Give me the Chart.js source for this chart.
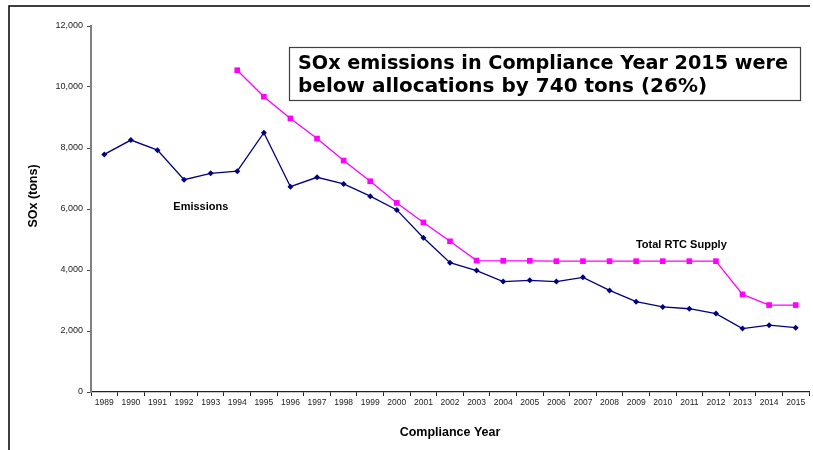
<!DOCTYPE html>
<html>
<head>
<meta charset="utf-8">
<script src="https://cdn.jsdelivr.net/npm/chart.js@4"></script>
<style>
  html, body { margin: 0; padding: 0; background: #fff; }
  #wrap { width: 813px; height: 450px; position: relative; }
</style>
</head>
<body>
<div id="wrap"><canvas id="graf"></canvas></div>
<script>
// ---------- dados ----------
const anos = ["1989", "1990", "1991", "1992", "1993", "1994", "1995", "1996", "1997", "1998",
  "1999", "2000", "2001", "2002", "2003", "2004", "2005", "2006", "2007", "2008",
  "2009", "2010", "2011", "2012", "2013", "2014", "2015"];

const emissoes = [7790, 8260, 7930, 6960, 7170, 7240, 8500, 6730, 7040, 6820,
  6420, 5970, 5060, 4240, 3980, 3620, 3660, 3620, 3760, 3330,
  2960, 2790, 2730, 2570, 2080, 2190, 2110];

const rtcSupply = [null, null, null, null, null, 10550, 9680, 8970, 8310, 7590,
  6910, 6200, 5560, 4940, 4310, 4300, 4300, 4290, 4290, 4290,
  4290, 4290, 4290, 4290, 3200, 2850, 2850];

const yTicks = [0, 2000, 4000, 6000, 8000, 10000, 12000];

const titulo = ["SOx emissions in Compliance Year 2015 were", "below allocations by 740 tons (26%)"];

// ---------- plugin: moldura, caixa de titulo, rotulos ----------
const extras = {
  id: "extras",
  beforeDraw(chart) {
    const ctx = chart.ctx;
    ctx.save();
    ctx.fillStyle = "#fff";
    ctx.fillRect(0, 0, chart.width, chart.height);
    // moldura
    ctx.strokeStyle = "#000";
    ctx.lineWidth = 1.5;
    ctx.beginPath();
    ctx.moveTo(9, 450);
    ctx.lineTo(9, 6);
    ctx.lineTo(810, 6);
    ctx.stroke();
    ctx.restore();
  },
  afterDraw(chart) {
    const ctx = chart.ctx;
    const x = chart.scales.x;
    const y = chart.scales.y;
    ctx.save();

    // titulo do eixo y
    ctx.fillStyle = "#000";
    ctx.font = "bold 12.5px 'Liberation Sans', Arial, sans-serif";
    ctx.textAlign = "center";
    ctx.textBaseline = "middle";
    ctx.translate(34, 196);
    ctx.rotate(-Math.PI / 2);
    ctx.fillText("SOx (tons)", 0, 0);
    ctx.setTransform(1, 0, 0, 1, 0, 0);

    // rotulos das series
    ctx.font = "bold 11px 'Liberation Sans', Arial, sans-serif";
    ctx.fillText("Emissions", x.getPixelForValue(3.63), y.getPixelForValue(6060));
    ctx.fillText("Total RTC Supply", x.getPixelForValue(21.7), y.getPixelForValue(4810));

    // caixa de titulo
    ctx.fillStyle = "#fff";
    ctx.fillRect(289, 47, 512, 54);
    ctx.strokeStyle = "#404040";
    ctx.lineWidth = 1.2;
    ctx.strokeRect(289.5, 47.5, 511, 53);
    ctx.fillStyle = "#000";
    ctx.font = "bold 20px 'DejaVu Sans', Verdana, sans-serif";
    ctx.textAlign = "left";
    ctx.textBaseline = "alphabetic";
    ctx.fillText(titulo[0], 298, 69, 490);
    ctx.fillText(titulo[1], 298, 92, 490);
    ctx.restore();
  },
};

// ---------- grafico ----------
const canvas = document.getElementById("graf");
new Chart(canvas, {
  type: "line",
  data: {
    labels: anos,
    datasets: [
      {
        label: "Emissions",
        data: emissoes,
        borderColor: "#000080",
        backgroundColor: "#000080",
        borderWidth: 1.3,
        pointStyle: "rectRot",
        pointRadius: 3,
        pointBorderWidth: 0,
        tension: 0,
      },
      {
        label: "Total RTC Supply",
        data: rtcSupply,
        borderColor: "#ff00ff",
        backgroundColor: "#ff00ff",
        borderWidth: 1.3,
        pointStyle: "rect",
        pointRadius: 4,
        pointBorderWidth: 0,
        tension: 0,
        spanGaps: false,
      },
    ],
  },
  options: {
    responsive: true,
    maintainAspectRatio: false,
    animation: false,
    layout: { padding: { left: 9, right: 3, top: 26, bottom: 0 } },
    plugins: {
      legend: { display: false },
      tooltip: { enabled: false },
    },
    scales: {
      x: {
        type: "category",
        offset: true,
        afterFit(scale) { scale.height = 58; },
        grid: { drawOnChartArea: false, drawTicks: true, tickLength: 4, color: "#222", offset: true },
        border: { color: "#222", width: 1.3 },
        ticks: {
          color: "#222",
          font: { family: "'Liberation Sans', Arial, sans-serif", size: 8.5 },
          padding: 2,
          maxRotation: 0,
          autoSkip: false,
        },
        title: {
          display: true,
          text: "Compliance Year",
          color: "#000",
          font: { family: "'Liberation Sans', Arial, sans-serif", size: 12.5, weight: "bold" },
          padding: { top: 0, bottom: 9.5 },
        },
      },
      y: {
        min: 0,
        max: 12000,
        afterFit(scale) { scale.width = 82; },
        afterBuildTicks(scale) { scale.ticks = yTicks.map((v) => ({ value: v })); },
        grid: { drawOnChartArea: false, drawTicks: true, tickLength: 4, color: "#444" },
        border: { color: "#808080", width: 2 },
        ticks: {
          color: "#222",
          font: { family: "'Liberation Sans', Arial, sans-serif", size: 9 },
          padding: 4,
          callback: (v) => v.toLocaleString("en-US"),
        },
      },
    },
  },
  plugins: [extras],
});
</script>
</body>
</html>
